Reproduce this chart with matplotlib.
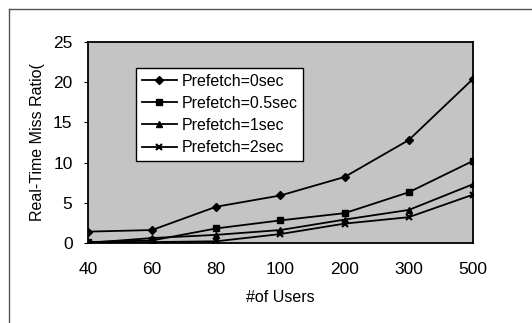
import numpy as np
import matplotlib.pyplot as plt

plt.rcParams['font.family'] = ['Liberation Sans', 'DejaVu Sans']

# datos
users = ['40', '60', '80', '100', '200', '300', '500']
pf0 = [1.4, 1.6, 4.5, 5.9, 8.2, 12.8, 20.4]
pf05 = [0.1, 0.3, 1.8, 2.8, 3.7, 6.3, 10.2]
pf1 = [0.0, 0.6, 1.0, 1.6, 2.9, 4.1, 7.3]
pf2 = [0.0, 0.1, 0.2, 1.1, 2.4, 3.2, 6.0]

fig = plt.figure(figsize=(5.32, 3.23), dpi=100)
ax = fig.add_axes([0.165, 0.248, 0.724, 0.622])
ax.set_facecolor('#c4c4c4')

x = np.arange(len(users))
ax.plot(x, pf0, color='black', lw=1.3, marker='D', ms=4.5, label='Prefetch=0sec')
ax.plot(x, pf05, color='black', lw=1.3, marker='s', ms=5, label='Prefetch=0.5sec')
ax.plot(x, pf1, color='black', lw=1.3, marker='^', ms=5, label='Prefetch=1sec')
ax.plot(x, pf2, color='black', lw=1.3, marker='x', ms=5, mew=1.5, label='Prefetch=2sec')

ax.set_xlim(0, len(users) - 1)
ax.set_ylim(0, 25)
ax.set_yticks([0, 5, 10, 15, 20, 25])
ax.set_xticks(x)
ax.set_xticklabels(users)
ax.tick_params(labelsize=12.5, length=3, direction='out')
ax.tick_params(axis='x', length=0, pad=14)
ax.tick_params(axis='y', pad=8)
for s in ax.spines.values():
    s.set_linewidth(1.3)

ax.set_xlabel('#of Users', fontsize=11.5, labelpad=9)
ax.set_ylabel('Real-Time Miss Ratio(', fontsize=11.5, labelpad=6)

leg = ax.legend(loc='upper left', bbox_to_anchor=(0.105, 0.91), fontsize=11.5,
                frameon=True, fancybox=False, framealpha=1, edgecolor='black',
                handlelength=2.2, handletextpad=0.3, borderpad=0.35, labelspacing=0.45)
leg.get_frame().set_linewidth(1.0)

# marco del escaneo
fig.add_artist(plt.Line2D([0.017, 1.0], [0.972, 0.972], color='#555555', lw=1))
fig.add_artist(plt.Line2D([0.017, 0.017], [0.0, 0.972], color='#555555', lw=1))

fig.savefig('out.png', dpi=100)
